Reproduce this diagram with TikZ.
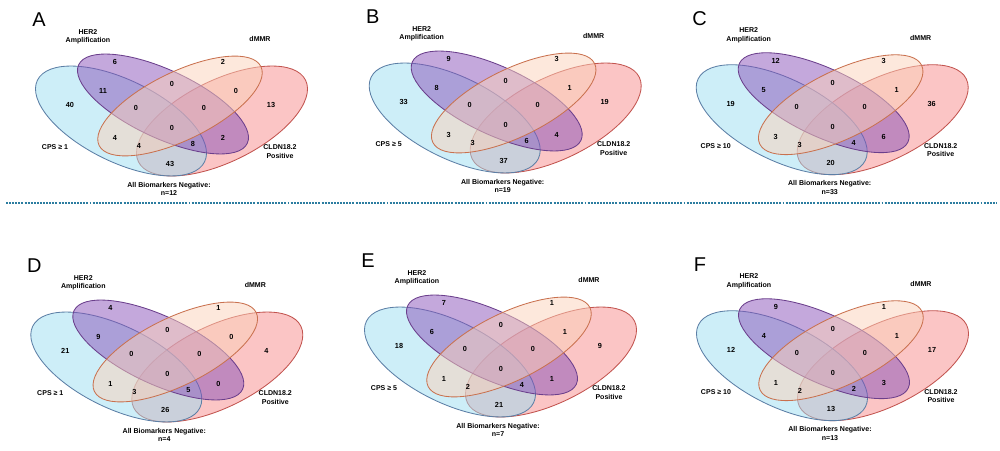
\documentclass[tikz,border=0pt]{standalone}
\usepackage{fontspec}
\setmainfont{Liberation Sans}
\usetikzlibrary{positioning}

\definecolor{cpsfill}{HTML}{9BDDF1}
\definecolor{cpsline}{HTML}{5C7FA6}
\definecolor{herfill}{HTML}{8951B9}
\definecolor{herline}{HTML}{6B3F8C}
\definecolor{mmrfill}{HTML}{FBD1B9}
\definecolor{mmrline}{HTML}{C9714F}
\definecolor{cldnfill}{HTML}{F78B8B}
\definecolor{cldnline}{HTML}{C2544F}
\definecolor{sepblue}{HTML}{2C7DA0}

% one four-set Venn panel
% #1 name, #2 centre, #3 letter, #4 CPS cut-off, #5 n, #6 region counts
\newcommand{\vennpanel}[6]{%
  \begin{scope}[shift={#2}]
    \draw[cldnset, rotate around={26:(50,-7)}] (50,-7) ellipse (93 and 41);
    \draw[cpsset, rotate around={-26:(-51,-7)}] (-51,-7) ellipse (93 and 41);
    \draw[herset, rotate around={-25:(-9,-24)}] (-9,-24) ellipse (93 and 34);
    \draw[mmrset, rotate around={26:(8,-22)}] (8,-22) ellipse (90 and 34);

    % region positions
    \foreach \px/\py [count=\i] in {-57/-66, 51/-66, -102/-23, 99/-23, -69/-37,
        0/-44, 64/-37, -36/-20, 32/-20, 0/0, -57/10, 51/10, -33/18, 21/16, -2/36}
      \coordinate (#1-r\i) at (\px,\py);
    \foreach \val [count=\i] in {#6}
      \node[regioncount] (#1-n\i) at (#1-r\i) {\val};

    % set labels
    \node[panelletter] (#1-tag) at (-133,-108) {#3};
    \node[setlabel] (#1-her) at (-84,-91.5) {HER2\\Amplification};
    \node[setlabel] (#1-mmr) at (88,-89) {dMMR};
    \node[setlabel] (#1-cps) at (-117,19) {CPS ≥ #4};
    \node[setlabel] (#1-cldn) at (108,23.5) {CLDN18.2\\Positive};
    \node[setlabel] (#1-neg) at (-3,61) {All Biomarkers Negative:\\n=#5};
  \end{scope}}

\begin{document}
\begin{tikzpicture}[
        x=0.025cm, y=-0.025cm,
        cpsset/.style={draw=cpsline, fill=cpsfill, fill opacity=0.5, line width=0.6pt},
        herset/.style={draw=herline, fill=herfill, fill opacity=0.5, line width=0.6pt},
        mmrset/.style={draw=mmrline, fill=mmrfill, fill opacity=0.5, line width=0.6pt},
        cldnset/.style={draw=cldnline, fill=cldnfill, fill opacity=0.5, line width=0.6pt},
        regioncount/.style={font=\bfseries\fontsize{5.2}{6}\selectfont, inner sep=0pt},
        setlabel/.style={font=\bfseries\fontsize{5}{6}\selectfont, align=center, inner sep=0pt},
        panelletter/.style={font=\fontsize{14.2}{16}\selectfont, inner sep=0pt},
        sepline/.style={draw=sepblue, line width=1.1pt, dash pattern=on 1.4pt off 0.8pt}
    ]
    \useasboundingbox (0,0) rectangle (1000,451);

    % Top row: CPS >= 1, 5, 10
    \vennpanel{A}{(172,128)}{A}{1}{12}{6,2,40,13,11,0,0,0,0,0,4,2,4,8,43}
    \vennpanel{B}{(505.7,125)}{B}{5}{19}{9,3,33,19,8,0,1,0,0,0,3,4,3,6,37}
    \vennpanel{C}{(832.7,126.7)}{C}{10}{33}{12,3,19,36,5,0,1,0,0,0,3,6,3,4,20}

    % Separator
    \coordinate (sepleft) at (6,203);
    \coordinate (sepright) at (996,203);
    \draw[sepline] (sepleft) -- (sepright);

    % Bottom row
    \vennpanel{D}{(167.3,374)}{D}{1}{4}{4,1,21,4,9,0,0,0,0,0,1,0,3,5,26}
    \vennpanel{E}{(501,369)}{E}{5}{7}{7,1,18,9,6,0,1,0,0,0,1,1,2,4,21}
    \vennpanel{F}{(833,372.7)}{F}{10}{13}{9,1,12,17,4,0,1,0,0,0,1,3,2,2,13}

\end{tikzpicture}
\end{document}
